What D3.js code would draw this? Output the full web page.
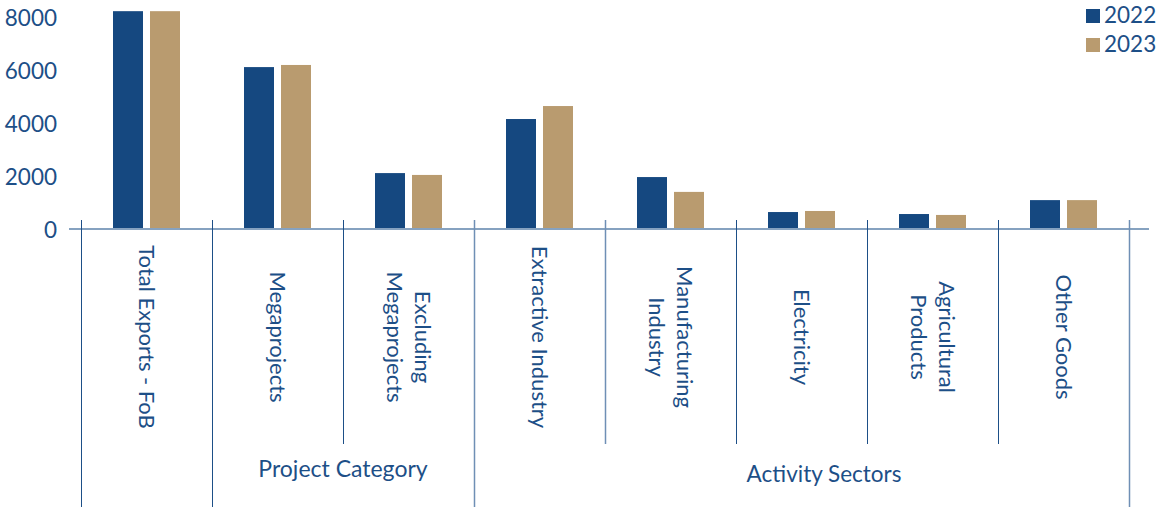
<!DOCTYPE html>
<html>
<head>
<meta charset="utf-8">
<script src="https://cdn.jsdelivr.net/npm/d3@7"></script>
<style>
  html, body { margin: 0; padding: 0; background: #ffffff; }
  svg { display: block; }
  text { font-family: Lato, "Open Sans", sans-serif; fill: #1d4f87; }
</style>
</head>
<body>
<svg id="chart" width="1158" height="507"></svg>
<script>
// Exports by category (value), 2022 vs 2023
const categories = [
  "Total Exports - FoB",
  "Megaprojects",
  "Excluding Megaprojects",
  "Extractive Industry",
  "Manufacturing Industry",
  "Electricity",
  "Agricultural Products",
  "Other Goods"
];
// label lines for each category (rotated text)
const categoryLines = [
  ["Total Exports - FoB"],
  ["Megaprojects"],
  ["Excluding", "Megaprojects"],
  ["Extractive Industry"],
  ["Manufacturing", "Industry"],
  ["Electricity"],
  ["Agricultural", "Products"],
  ["Other Goods"]
];
const seriesNames = ["2022", "2023"];
const values2022 = [8220, 6110, 2110, 4150, 1960, 640, 565, 1090];
const values2023 = [8220, 6190, 2040, 4640, 1400, 680, 530, 1090];
const yTicks = [0, 2000, 4000, 6000, 8000];

// category groups: first / last index, label, label placement
const groups = [
  { from: 0, to: 0, label: "", cx: 0, base: 0, size: 0 },
  { from: 1, to: 2, label: "Project Category", cx: 343, base: 477, size: 23 },
  { from: 3, to: 7, label: "Activity Sectors", cx: 824, base: 482, size: 22.5 }
];

const colors = { "2022": "#154880", "2023": "#b99b6f" };

const svg = d3.select("#chart");

const x0 = d3.scaleBand().domain(categories).range([81, 1129]).paddingInner(0).paddingOuter(0);
const x1 = d3.scaleBand().domain(seriesNames).range([0, x0.bandwidth()])
  .paddingInner(7 / 37).paddingOuter(0.865);
const y = d3.scaleLinear().domain([0, 8000]).range([229, 17]);

const rows = categories.map((c, i) => ({
  cat: c,
  vals: [
    { s: "2022", v: values2022[i] },
    { s: "2023", v: values2023[i] }
  ]
}));

// y axis labels (no line, no ticks)
const yAxis = d3.axisLeft(y).tickValues(yTicks).tickSize(0).tickPadding(0).tickFormat(d3.format("d"));
const yg = svg.append("g").attr("transform", "translate(57,0)").call(yAxis);
yg.select(".domain").remove();
yg.selectAll("text")
  .attr("font-size", 22.5)
  .attr("fill", "#1d4f87")
  .style("font-family", "Lato, 'Open Sans', sans-serif")
  .attr("dy", "0.36em");

// bars
const cg = svg.append("g");
cg.selectAll("g.cat").data(rows).join("g")
  .attr("class", "cat")
  .attr("transform", d => `translate(${x0(d.cat)},0)`)
  .selectAll("rect").data(d => d.vals).join("rect")
  .attr("x", d => x1(d.s))
  .attr("width", x1.bandwidth())
  .attr("y", d => y(d.v))
  .attr("height", d => y(0) - y(d.v))
  .attr("fill", d => colors[d.s]);

// baseline
svg.append("line")
  .attr("x1", 69).attr("x2", 1149)
  .attr("y1", y(0)).attr("y2", y(0))
  .attr("stroke", "#86a2c0").attr("stroke-width", 2);

// separators between categories
const boundaries = d3.range(categories.length + 1);
const groupEdges = new Set();
groups.forEach(g => { groupEdges.add(g.from); groupEdges.add(g.to + 1); });
const edgeX = i => i < categories.length ? x0(categories[i]) : x0.range()[1];
const lightEdges = new Set([3, 4, 8]);
svg.append("g").selectAll("line").data(boundaries).join("line")
  .attr("x1", i => Math.round(edgeX(i)) + 0.5)
  .attr("x2", i => Math.round(edgeX(i)) + 0.5)
  .attr("y1", 220)
  .attr("y2", i => groupEdges.has(i) ? 507 : 444)
  .attr("stroke", i => lightEdges.has(i) ? "#6f8fb5" : "#1d4f87")
  .attr("stroke-width", i => lightEdges.has(i) ? 1.5 : 1);

// rotated category labels
const lineGap = 28;
const lg = svg.append("g");
categories.forEach((c, i) => {
  const lines = categoryLines[i];
  const cx = x0(c) + x0.bandwidth() / 2;
  const cy = 337;
  const t = lg.append("text")
    .attr("transform", `translate(${cx},${cy}) rotate(90)`)
    .attr("text-anchor", "middle")
    .attr("font-size", 22);
  const n = lines.length;
  lines.forEach((ln, k) => {
    // first line sits on the right after rotating clockwise
    const off = (k - (n - 1) / 2) * lineGap;
    t.append("tspan").attr("x", 0).attr("y", off).attr("dy", "0.35em").text(ln);
  });
});

// group labels
groups.filter(g => g.label).forEach(g => {
  svg.append("text")
    .attr("x", g.cx)
    .attr("y", g.base)
    .attr("text-anchor", "middle")
    .attr("font-size", g.size)
    .text(g.label);
});

// legend
const leg = svg.append("g");
seriesNames.forEach((s, i) => {
  leg.append("rect")
    .attr("x", 1086).attr("y", 9 + i * 29)
    .attr("width", 14).attr("height", 14)
    .attr("fill", colors[s]);
  leg.append("text")
    .attr("x", 1104).attr("y", 23 + i * 28.5)
    .attr("font-size", 22.5)
    .text(s);
});
</script>
</body>
</html>
